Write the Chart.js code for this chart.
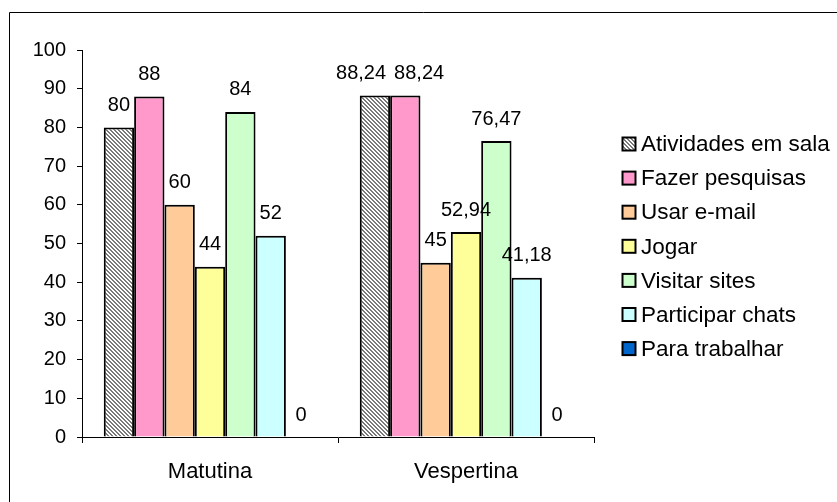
<!DOCTYPE html>
<html>
<head>
<meta charset="utf-8">
<script src="https://cdn.jsdelivr.net/npm/chart.js@4/dist/chart.umd.min.js"></script>
<style>
  html, body { margin: 0; padding: 0; background: #fff; }
  #wrap { position: relative; width: 837px; height: 502px; }
</style>
</head>
<body>
<div id="wrap"><canvas id="c" width="837" height="502"></canvas></div>
<script>
const categories = ['Matutina', 'Vespertina'];
const seriesNames = ['Atividades em sala', 'Fazer pesquisas', 'Usar e-mail', 'Jogar', 'Visitar sites', 'Participar chats', 'Para trabalhar'];
const atividadesEmSala = [80, 88.24];
const fazerPesquisas = [88, 88.24];
const usarEmail = [60, 45];
const jogar = [44, 52.94];
const visitarSites = [84, 76.47];
const participarChats = [52, 41.18];
const paraTrabalhar = [0, 0];
const yTicks = [0, 10, 20, 30, 40, 50, 60, 70, 80, 90, 100];

const FONT = '"Liberation Sans", Arial, sans-serif';

// fine diagonal hatch used by the first series
const ctx0 = document.getElementById('c').getContext('2d');
const hatchFill = ctx0.createPattern((function () {
  const p = document.createElement('canvas');
  p.width = 4; p.height = 4;
  const g = p.getContext('2d');
  g.fillStyle = '#ffffff'; g.fillRect(0, 0, 4, 4);
  g.fillStyle = '#7a7a7a';
  for (let x = 0; x < 4; x++) for (let y = 0; y < 4; y++) if (((x - y) % 4 + 4) % 4 < 2) g.fillRect(x, y, 1, 1);
  return p;
})(), 'repeat');

const values = [atividadesEmSala, fazerPesquisas, usarEmail, jogar, visitarSites, participarChats, paraTrabalhar];
const fills = [hatchFill, '#FF99CC', '#FFCC99', '#FFFF99', '#CCFFCC', '#CCFFFF', '#0066CC'];

const datasets = seriesNames.map((name, i) => ({
  label: name,
  data: values[i],
  backgroundColor: fills[i],
  borderColor: '#000000',
  borderWidth: 2,
  borderSkipped: 'bottom',
  categoryPercentage: 0.83,
  barPercentage: 1.0
}));

function fmt(v) {
  return String(v).replace('.', ',');
}

// value labels above the bars; neighbouring labels that would collide are pushed apart
const valueLabels = {
  id: 'valueLabels',
  afterDatasetsDraw(chart) {
    const c = chart.ctx;
    c.save();
    c.font = '20px ' + FONT;
    c.fillStyle = '#000';
    c.textAlign = 'center';
    c.textBaseline = 'middle';
    const gap = 8;
    chart.data.labels.forEach((_, j) => {
      const items = chart.data.datasets.map((ds, i) => {
        const bar = chart.getDatasetMeta(i).data[j];
        const text = fmt(ds.data[j]);
        return { text, x: bar.x, y: bar.y - 22, w: c.measureText(text).width };
      });
      for (let k = 1; k < items.length; k++) {
        const a = items[k - 1], b = items[k];
        if (Math.abs(a.y - b.y) < 18) {
          const need = (a.w + b.w) / 2 + gap - (b.x - a.x);
          if (need > 0) { a.x -= need / 2; b.x += need / 2; }
        }
      }
      items.forEach(it => c.fillText(it.text, it.x, it.y));
    });
    c.restore();
  }
};

// frame lines and legend at the right
const frameAndLegend = {
  id: 'frameAndLegend',
  afterDraw(chart) {
    const c = chart.ctx;
    c.save();
    c.strokeStyle = '#000';
    c.lineWidth = 1;
    c.beginPath();
    c.moveTo(9.5, 502);
    c.lineTo(9.5, 12.5);
    c.lineTo(837, 12.5);
    c.stroke();

    c.font = '22.5px ' + FONT;
    c.textBaseline = 'middle';
    c.textAlign = 'left';
    const x0 = 629, y0 = 144, step = 34.1, box = 13;
    chart.data.datasets.forEach((ds, i) => {
      const y = y0 + i * step;
      c.fillStyle = ds.backgroundColor;
      c.fillRect(x0 - box / 2, y - box / 2, box, box);
      c.lineWidth = 2;
      c.strokeStyle = '#000';
      c.strokeRect(x0 - box / 2, y - box / 2, box, box);
      c.fillStyle = '#000';
      c.fillText(ds.label, x0 + 12, y + 1);
    });
    c.restore();
  }
};

new Chart(document.getElementById('c'), {
  type: 'bar',
  data: { labels: categories, datasets },
  options: {
    responsive: false,
    animation: false,
    layout: { padding: { left: 0, right: 243, top: 50, bottom: 0 } },
    plugins: { legend: { display: false }, tooltip: { enabled: false } },
    scales: {
      x: {
        offset: true,
        grid: { display: true, drawOnChartArea: false, offset: true, tickLength: 6, color: '#000', lineWidth: 1 },
        border: { display: true, color: '#000', width: 1 },
        ticks: { color: '#000', font: { family: FONT, size: 22 }, padding: 16 },
        afterFit(s) { s.height = 65; }
      },
      y: {
        min: 0, max: 100,
        afterBuildTicks(s) { s.ticks = yTicks.map(v => ({ value: v })); },
        grid: { display: true, drawOnChartArea: false, tickLength: 5, color: '#000', lineWidth: 1 },
        border: { display: true, color: '#000', width: 1 },
        ticks: { color: '#000', font: { family: FONT, size: 20 }, padding: 11 },
        afterFit(s) { s.width = 82; }
      }
    }
  },
  plugins: [valueLabels, frameAndLegend]
});
</script>
</body>
</html>
